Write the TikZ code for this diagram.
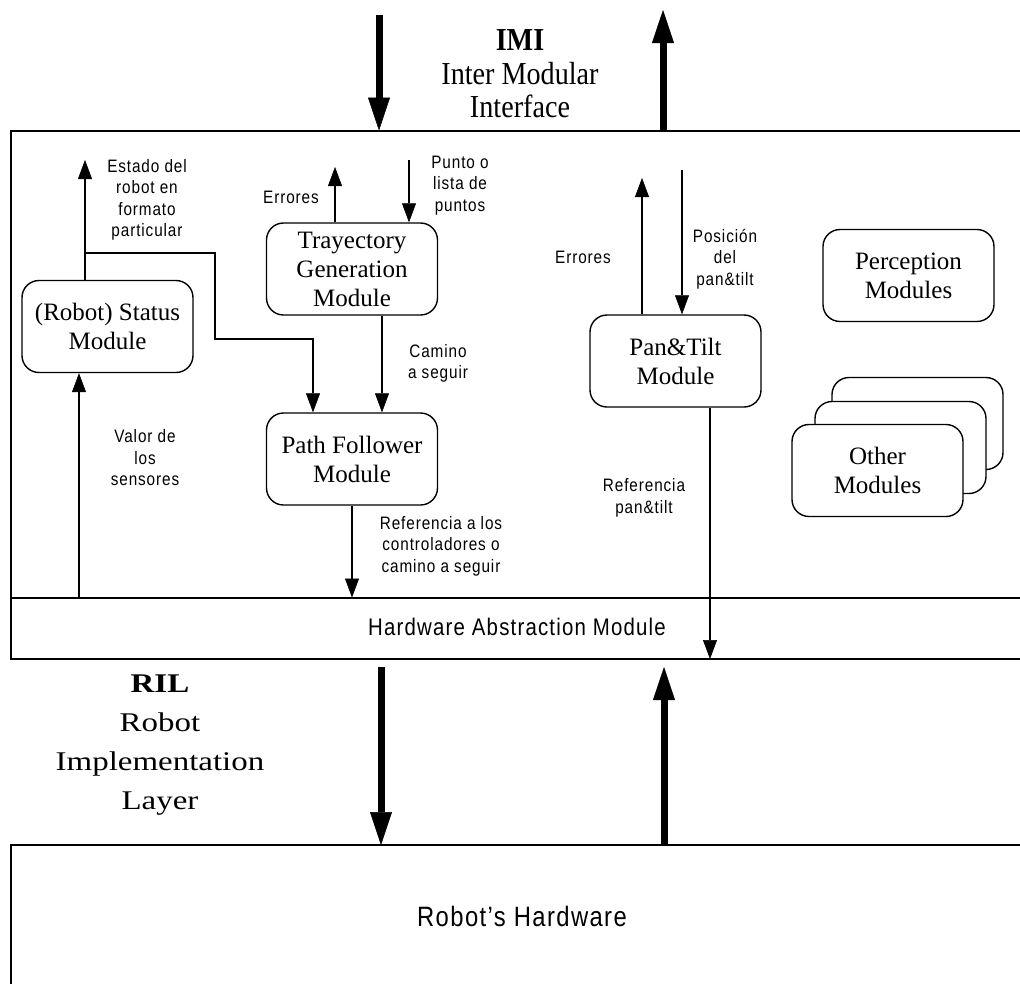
\documentclass[tikz,border=0pt]{standalone}
\usepackage{fontspec}
\setmainfont{Liberation Serif}
\newfontfamily\lblfont[FakeStretch=0.85,LetterSpace=5]{Liberation Sans}
\newfontfamily\imifont[FakeStretch=0.88]{Liberation Serif}
\newfontfamily\rilfont[FakeStretch=1.22]{Liberation Serif}
\usetikzlibrary{arrows.meta}

\begin{document}
\begin{tikzpicture}[x=1pt,y=-1pt,
  modbox/.style={draw, line width=1.4pt, rounded corners=17pt, fill=white,
    minimum width=171pt, minimum height=92pt, inner sep=2pt, align=center,
    font=\fontsize{25}{29}\selectfont},
  lbl/.style={align=center, inner sep=0pt, font=\lblfont\fontsize{18}{21.5}\selectfont},
  arr/.style={line width=1.3pt, -{Triangle[length=19pt,width=14pt,line width=0.5pt]}},
  bigarr/.style={line width=7pt, -{Triangle[length=33pt,width=22pt,line width=0.5pt]}},
  frameline/.style={line width=2pt}]
\useasboundingbox (0,0) rectangle (1020,983);
\clip (0,0) rectangle (1020,983);

% layer outlines: modules area, hardware abstraction strip, robot hardware
\draw[frameline] (1030,130.5) -- (10.5,130.5) -- (10.5,659) -- (1030,659);
\draw[frameline] (10.5,597.5) -- (1030,597.5);
\draw[frameline] (1030,845) -- (10.5,845) -- (10.5,995);

% reference levels of the layer lines
\coordinate (imitop) at (0,130.5);
\coordinate (hamtop) at (0,597.5);
\coordinate (hambot) at (0,659);
\coordinate (hwtop)  at (0,845);

% modules
\node[modbox] (status) at (107.5,326.5) {(Robot) Status\\Module};
\node[modbox] (traj)   at (352,269)     {Trayectory\\Generation\\Module};
\node[modbox] (pf)     at (352,459)     {Path Follower\\Module};
\node[modbox] (pt)     at (675.5,361)   {Pan\&Tilt\\Module};
\node[modbox] (perc)   at (908.5,275.5) {Perception\\Modules};
\node[modbox] (oth3)   at (917.5,423.5) {};
\node[modbox] (oth2)   at (900.5,447.5) {};
\node[modbox] (oth1)   at (877.5,470.5) {Other\\Modules};

% layer names
\node[lbl, font=\lblfont\fontsize{24}{28}\selectfont] (ham) at (517,626.5) {Hardware Abstraction Module};
\node[lbl, font=\lblfont\fontsize{28}{32}\selectfont] (hw) at (522,916) {Robot’s Hardware};
\node[align=center, inner sep=0pt, font=\imifont\fontsize{32}{33.5}\selectfont] (imi) at (520,74)
  {\textbf{IMI}\\Inter Modular\\Interface};
\node[align=center, inner sep=0pt, font=\rilfont\fontsize{27}{39}\selectfont] (ril) at (160,745)
  {\textbf{RIL}\\Robot\\Implementation\\Layer};

% free ends of the connectors
\coordinate (stOut) at (85,160);
\coordinate (brA)   at (85,253);
\coordinate (brB)   at (313,339);
\coordinate (tjErr) at (335,167);
\coordinate (tjIn)  at (409,160);
\coordinate (valX)  at (79,0);
\coordinate (ptErr) at (642,178);
\coordinate (ptIn)  at (682,170);
\coordinate (ptOut) at (710,0);
\coordinate (imiDn) at (379,15);
\coordinate (imiUp) at (663,10);
\coordinate (rilDn) at (381,667);
\coordinate (rilUp) at (664,667);

% status module
\draw[arr] (status.north -| stOut) -- (stOut);
\draw[arr] (brA) -- ++(130,0) |- (brB) -- (brB |- pf.north);
\draw[arr] (valX |- hamtop) -- (valX |- status.south);

% trajectory generation and path following
\draw[arr] (traj.north -| tjErr) -- (tjErr);
\draw[arr] (tjIn) -- (traj.north -| tjIn);
\draw[arr] ([xshift=30pt]traj.south) -- ([xshift=30pt]pf.north);
\draw[arr] (pf.south) -- (pf.south |- hamtop);

% pan & tilt
\draw[arr] (pt.north -| ptErr) -- (ptErr);
\draw[arr] (ptIn) -- (pt.north -| ptIn);
\draw[arr] (pt.south -| ptOut) -- (ptOut |- hambot);

% interface arrows
\draw[bigarr] (imiDn) -- (imiDn |- imitop);
\draw[bigarr] (imiUp |- imitop) -- (imiUp);
\draw[bigarr] (rilDn) -- (rilDn |- hwtop);
\draw[bigarr] (rilUp |- hwtop) -- (rilUp);

% connector labels
\node[lbl] (lEstado) at (147,200)   {Estado del\\robot en\\formato\\particular};
\node[lbl] (lErrT)   at (291,197)   {Errores};
\node[lbl] (lPunto)  at (460,185.5) {Punto o\\lista de\\puntos};
\node[lbl] (lCamino) at (438,363.5) {Camino\\a seguir};
\node[lbl] (lValor)  at (145,458)   {Valor de\\los\\sensores};
\node[lbl] (lRefPF)  at (441,546)   {Referencia a los\\controladores o\\camino a seguir};
\node[lbl] (lErrP)   at (583,257)   {Errores};
\node[lbl] (lPos)    at (725,259)   {Posición\\del\\pan\&tilt};
\node[lbl] (lRefPT)  at (644,498)   {Referencia\\pan\&tilt};
\end{tikzpicture}
\end{document}
